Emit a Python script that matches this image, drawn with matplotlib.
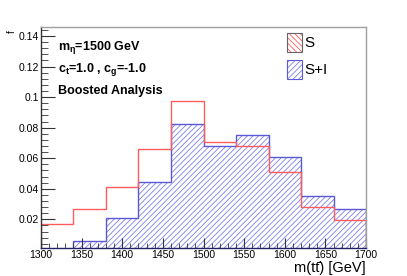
import numpy as np
import matplotlib
matplotlib.use("Agg")
import matplotlib.pyplot as plt
from matplotlib.patches import Rectangle
from matplotlib.ticker import MultipleLocator

plt.rcParams['font.family'] = ['Liberation Sans', 'DejaVu Sans']
plt.rcParams['mathtext.fontset'] = 'custom'
plt.rcParams['mathtext.rm'] = 'Liberation Sans'
plt.rcParams['mathtext.it'] = 'Liberation Sans:italic'
plt.rcParams['mathtext.bf'] = 'Liberation Sans:bold'
plt.rcParams['mathtext.default'] = 'regular'
plt.rcParams['hatch.linewidth'] = 0.6

# m(tt) bins, 40 GeV wide
edges = np.arange(1300, 1701, 40)
signal = [0.0168, 0.0270, 0.0410, 0.0659, 0.0973, 0.0704, 0.0680, 0.0510, 0.0283, 0.0196]
sig_int = [0.0, 0.0060, 0.0207, 0.0447, 0.0822, 0.0682, 0.0754, 0.0610, 0.0353, 0.0268]

red = '#ff5c5c'
blue_line = '#5a5ad8'
blue_hatch = '#7f7fe6'
frame = '#a0a0a0'

fig = plt.figure(figsize=(4.07, 2.76), dpi=100)
ax = fig.add_axes([0.1007, 0.1025, 0.7986, 0.7986])

# S+I : hatched
ax.stairs(sig_int, edges, fill=True, facecolor='none', edgecolor=blue_hatch,
          hatch='//////', linewidth=0)
ax.stairs(sig_int, edges, color=blue_line, linewidth=1.0)
# S : line only
ax.stairs(signal, edges, color=red, linewidth=1.0)

ax.set_xlim(1300, 1700)
ax.set_ylim(0.0014, 0.1457)

ax.xaxis.set_major_locator(MultipleLocator(50))
ax.xaxis.set_minor_locator(MultipleLocator(10))
ax.yaxis.set_minor_locator(MultipleLocator(0.004))
ax.set_yticks([0.02, 0.04, 0.06, 0.08, 0.1, 0.12, 0.14])
ax.set_yticklabels(['0.02', '0.04', '0.06', '0.08', '0.1', '0.12', '0.14'])

ax.tick_params(axis='both', which='both', direction='in', labelsize=7.5,
               top=False, right=False, color='#333333')
ax.tick_params(axis='y', which='major', length=10, pad=1.5)
ax.tick_params(axis='y', which='minor', length=5)
ax.tick_params(axis='x', which='major', length=7, pad=2)
ax.tick_params(axis='x', which='minor', length=3.5)

for side in ['top', 'right']:
    ax.spines[side].set_color(frame)
ax.spines['left'].set_color('#333333')
ax.spines['bottom'].set_color('#222266')
for s in ax.spines.values():
    s.set_linewidth(1.0)

# x title
ax.text(1.0, -0.111, 'm(tt\u0304) [GeV]', transform=ax.transAxes,
        ha='right', va='baseline', fontsize=10.5)
# clipped y title remnant
fig.text(0.028, 0.885, 'f', rotation=90, fontsize=7, ha='center', va='center')

# labels
kw = dict(transform=ax.transAxes, ha='left', va='baseline', fontsize=9,
          fontweight='bold')
ax.text(0.052, 0.897, r'm$_{\eta}$=1500 GeV', **kw)
ax.text(0.052, 0.797, r'c$_{t}$=1.0 , c$_{g}$=-1.0', **kw)
ax.text(0.052, 0.697, 'Boosted Analysis', **kw)

# legend
boxes = [(0.887, red, '\\\\\\\\\\\\', 'S'), (0.765, blue_hatch, '//////', 'S+I')]
for y0, col, h, lab in boxes:
    ax.add_patch(Rectangle((0.758, y0), 0.044, 0.086, transform=ax.transAxes,
                           facecolor='none', edgecolor=col, hatch=h,
                           linewidth=0, clip_on=False))
    ax.add_patch(Rectangle((0.758, y0), 0.044, 0.086, transform=ax.transAxes,
                           fill=False, edgecolor='#666666' if lab == 'S' else blue_line,
                           linewidth=0.8, clip_on=False))
    ax.text(0.810, y0 + 0.043, lab, transform=ax.transAxes, ha='left',
            va='center', fontsize=11)

fig.savefig('out.png', dpi=100)
